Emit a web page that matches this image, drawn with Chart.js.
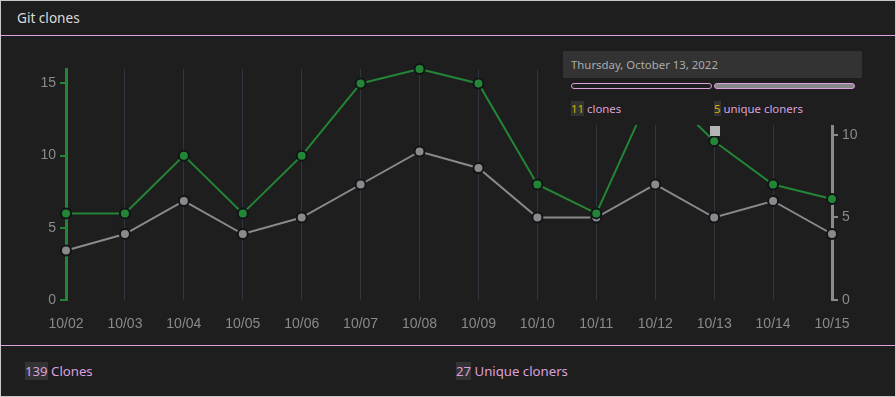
<!DOCTYPE html>
<html>
<head>
<meta charset="utf-8">
<script src="https://cdn.jsdelivr.net/npm/chart.js@4.4.0/dist/chart.umd.min.js"></script>
<style>
  html, body { margin: 0; padding: 0; background: #1e1e1e; }
  .card {
    position: relative; width: 896px; height: 397px; box-sizing: border-box;
    border: 1px solid #c8c8c8; background: #1e1e1e; overflow: hidden;
    font-family: "Noto Sans", "Open Sans", sans-serif;
  }
  .head {
    height: 34px; border-bottom: 1px solid #dda0dd; color: #dcdcdc;
    font-size: 13.6px; line-height: 34px; padding-left: 16px;
  }
  .chart-wrap { position: absolute; left: 0; top: 35px; width: 894px; height: 309px; }
  .foot {
    position: absolute; left: 0; top: 344px; width: 894px; height: 51px;
    border-top: 1px solid #dda0dd; color: #dda0dd; font-size: 13.2px;
  }
  .foot span.item { position: absolute; top: 16px; }
  .num { background: #333; }
  .tip { position: absolute; left: 562px; top: 50px; width: 299px; height: 74px; background: #1e1e1e; }
  .tip .date {
    height: 27px; background: #333; color: #ababab; font-size: 11.4px;
    line-height: 27px; padding-left: 8px;
  }
  .tip .bar {
    position: absolute; top: 32px; height: 6px; box-sizing: border-box;
    border: 1px solid #dda0dd; border-radius: 3px;
  }
  .tip .row { position: absolute; top: 50px; font-size: 11.4px; color: #dda0dd; }
  .tip .row .v { background: #333; color: #d4b000; }
</style>
</head>
<body>
<div class="card">
  <div class="head">Git clones</div>
  <div class="chart-wrap"><canvas id="clonesChart"></canvas></div>
  <div class="tip" id="tip">
    <div class="date" id="tipDate"></div>
    <div class="bar" style="left:8px;width:141px;background:#1e1e1e"></div>
    <div class="bar" style="left:151px;width:141px;background:#888"></div>
    <div class="row" style="left:8px"><span class="v" id="tipClones"></span> clones</div>
    <div class="row" style="left:151px"><span class="v" id="tipUnique"></span> unique cloners</div>
  </div>
  <div class="foot">
    <span class="item" style="left:24px"><span class="num" id="totalClones"></span> Clones</span>
    <span class="item" style="left:455px"><span class="num" id="totalUnique"></span> Unique cloners</span>
  </div>
</div>
<script>
const days = ['10/02', '10/03', '10/04', '10/05', '10/06', '10/07', '10/08',
  '10/09', '10/10', '10/11', '10/12', '10/13', '10/14', '10/15'];
const clones = [6, 6, 10, 6, 10, 15, 16, 15, 8, 6, 15, 11, 8, 7];
const uniqueCloners = [3, 4, 6, 4, 5, 7, 9, 8, 5, 5, 7, 5, 6, 4];
const clonesTicks = [0, 5, 10, 15];
const uniqueTicks = [0, 5, 10];
const totalClones = 139;
const totalUnique = 27;
const hoverIndex = 11;
const hoverDate = 'Thursday, October 13, 2022';

const green = '#238636';
const grey = '#8a8a8a';
const tickFont = { family: 'Liberation Sans', size: 14 };

document.getElementById('totalClones').textContent = totalClones;
document.getElementById('totalUnique').textContent = totalUnique;
document.getElementById('tipDate').textContent = hoverDate;
document.getElementById('tipClones').textContent = clones[hoverIndex];
document.getElementById('tipUnique').textContent = uniqueCloners[hoverIndex];

// little square marker above the hovered day
const hoverMarker = {
  id: 'hoverMarker',
  afterDraw(chart) {
    const x = chart.scales.x.getPixelForValue(hoverIndex);
    const ctx = chart.ctx;
    ctx.save();
    ctx.fillStyle = '#b4b4b4';
    ctx.fillRect(Math.round(x) - 4, 90, 10, 10);
    ctx.restore();
  },
};

const ctx = document.getElementById('clonesChart').getContext('2d');
const chart = new Chart(ctx, {
  type: 'line',
  data: {
    labels: days,
    datasets: [
      {
        label: 'Clones',
        data: clones,
        yAxisID: 'y',
        borderColor: green,
        backgroundColor: green,
        borderWidth: 2,
        pointRadius: 5,
        pointBorderWidth: 2,
        pointBorderColor: '#111418',
        pointBackgroundColor: green,
        tension: 0,
        clip: false,
      },
      {
        label: 'Unique cloners',
        data: uniqueCloners,
        yAxisID: 'y1',
        borderColor: grey,
        backgroundColor: grey,
        borderWidth: 2,
        pointRadius: 5,
        pointBorderWidth: 2,
        pointBorderColor: '#111418',
        pointBackgroundColor: grey,
        tension: 0,
        clip: false,
      },
    ],
  },
  options: {
    responsive: true,
    maintainAspectRatio: false,
    animation: false,
    layout: { padding: { top: 33, bottom: 0, left: 0, right: 0 } },
    plugins: {
      legend: { display: false },
      tooltip: { enabled: false },
    },
    scales: {
      x: {
        offset: false,
        grid: { color: '#30363d', lineWidth: 1, drawTicks: false },
        border: { display: false },
        ticks: { color: grey, font: tickFont, padding: 16, maxRotation: 0, autoSkip: false },
        afterFit(scale) { scale.height = 45; },
      },
      y: {
        position: 'left',
        min: 0,
        max: 16,
        grid: { drawOnChartArea: false, drawTicks: true, tickLength: 6, tickColor: green, lineWidth: 2 },
        border: { display: true, color: green, width: 3 },
        ticks: { color: grey, font: tickFont, padding: 4 },
        afterBuildTicks(scale) { scale.ticks = clonesTicks.map(v => ({ value: v })); },
        afterFit(scale) { scale.width = 65; },
      },
      y1: {
        position: 'right',
        min: 0,
        max: 14,
        grid: { drawOnChartArea: false, drawTicks: true, tickLength: 6, tickColor: grey, lineWidth: 2 },
        border: { display: true, color: grey, width: 3 },
        ticks: { color: grey, font: tickFont, padding: 4 },
        afterBuildTicks(scale) { scale.ticks = uniqueTicks.map(v => ({ value: v })); },
        afterFit(scale) { scale.width = 63; },
      },
    },
  },
  plugins: [hoverMarker],
});
</script>
</body>
</html>
